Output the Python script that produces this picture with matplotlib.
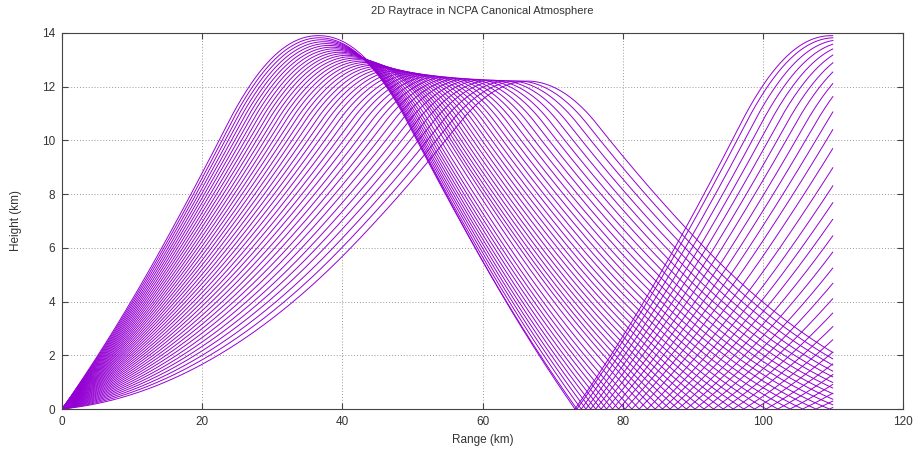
import matplotlib

matplotlib.use("Agg")
import matplotlib.pyplot as plt
import numpy as np

# effective sound speed profile (NCPA canonical, with tropospheric jet)
PROFILE_Z_KM = [0.0, 6.0, 10.6, 12.2, 13.05, 13.9, 16.0]
PROFILE_C_MS = [340.0, 328.4, 323.0, 340.0, 351.0, 363.0, 380.8]

# launch elevation angles (deg)
LAUNCH_DEG = [1.55, 2.01, 2.47, 2.94, 3.4, 3.86, 4.32, 4.79, 5.25, 5.71, 6.17,
              6.63, 7.1, 7.56, 8.02, 8.48, 8.95, 9.41, 9.87, 10.33, 10.79,
              11.26, 11.72, 12.18, 12.64, 13.11, 13.57, 14.03, 14.49, 14.95,
              15.42, 15.88, 16.34, 16.8, 17.27, 17.73, 18.19, 18.65, 19.11,
              19.58, 20.04, 20.5]
MAX_RANGE_KM = 110.0

LINE = "#9400d3"
TEXT = "#333333"
plt.rcParams.update({"font.family": ["Liberation Sans", "DejaVu Sans"], "font.size": 8.5})


def c_of(z):
    return np.interp(z, PROFILE_Z_KM, PROFILE_C_MS)


def dcdz(z, h=0.02):
    return (c_of(z + h) - c_of(z - h)) / (2 * h)


def trace(angles_deg, ds=0.04):
    th = np.radians(np.asarray(angles_deg, float))
    x = np.zeros_like(th)
    z = np.zeros_like(th)
    xs, zs = [x.copy()], [z.copy()]

    def rhs(z, th):
        return np.cos(th), np.sin(th), -np.cos(th) * dcdz(z) / c_of(z)

    while x.min() < MAX_RANGE_KM + 0.1:
        k1 = rhs(z, th)
        k2 = rhs(z + 0.5 * ds * k1[1], th + 0.5 * ds * k1[2])
        k3 = rhs(z + 0.5 * ds * k2[1], th + 0.5 * ds * k2[2])
        k4 = rhs(z + ds * k3[1], th + ds * k3[2])
        x = x + ds / 6 * (k1[0] + 2 * k2[0] + 2 * k3[0] + k4[0])
        z = z + ds / 6 * (k1[1] + 2 * k2[1] + 2 * k3[1] + k4[1])
        th = th + ds / 6 * (k1[2] + 2 * k2[2] + 2 * k3[2] + k4[2])
        below = z < 0
        z = np.where(below, -z, z)
        th = np.where(below, -th, th)
        xs.append(x.copy())
        zs.append(z.copy())
    return np.array(xs), np.array(zs)


xs, zs = trace(LAUNCH_DEG)

fig = plt.figure(figsize=(9.16, 4.53), dpi=100)
ax = fig.add_axes([0.0677, 0.0971, 0.9181, 0.8301])
for i in range(xs.shape[1]):
    keep = xs[:, i] <= MAX_RANGE_KM
    ax.plot(xs[keep, i], zs[keep, i], color=LINE, lw=0.7)

ax.set_xlim(0, 120)
ax.set_ylim(0, 14)
ax.set_xticks(range(0, 121, 20))
ax.set_yticks(range(0, 15, 2))
ax.grid(True, ls=(0, (1, 2)), color="#999999", lw=0.7)
ax.tick_params(direction="in", top=True, right=True, length=4, colors="#444444",
               labelcolor=TEXT, pad=5)
for s in ax.spines.values():
    s.set_color("#444444")
    s.set_linewidth(0.8)
ax.set_xlabel("Range (km)", color=TEXT, labelpad=4)
ax.set_ylabel("Height (km)", color=TEXT, labelpad=14)
ax.set_title("2D Raytrace in NCPA Canonical Atmosphere", color=TEXT, fontsize=8, pad=14)

fig.savefig("out.png", dpi=100)
